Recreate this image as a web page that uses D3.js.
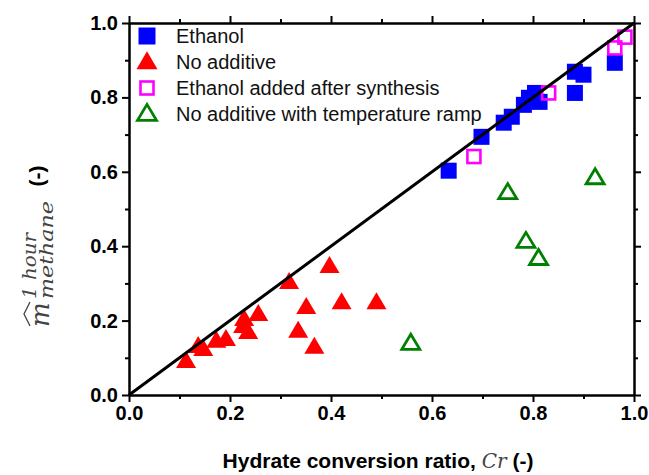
<!DOCTYPE html>
<html>
<head>
<meta charset="utf-8">
<script src="https://cdn.jsdelivr.net/npm/d3@7"></script>
<style>
  body { margin: 0; background: #fff; }
  svg { display: block; }
</style>
</head>
<body>
<div id="chart"></div>
<script>
// Ethanol (filled blue squares)
var ethanolX = [0.633, 0.698, 0.742, 0.758, 0.782, 0.792, 0.804, 0.813, 0.883, 0.900, 0.883, 0.962]
var ethanolY = [0.603, 0.694, 0.732, 0.748, 0.780, 0.799, 0.812, 0.788, 0.869, 0.861, 0.812, 0.893]
// No additive (filled red triangles)
var noAddX = [0.113, 0.137, 0.147, 0.173, 0.192, 0.226, 0.236, 0.228, 0.256, 0.317, 0.351, 0.335, 0.367, 0.397, 0.421, 0.490]
var noAddY = [0.091, 0.131, 0.123, 0.145, 0.150, 0.185, 0.169, 0.204, 0.217, 0.303, 0.236, 0.172, 0.129, 0.346, 0.249, 0.249]
// Ethanol added after synthesis (open magenta squares)
var afterX = [0.683, 0.831, 0.962, 0.982]
var afterY = [0.641, 0.812, 0.933, 0.962]
// No additive with temperature ramp (open green triangles)
var rampX = [0.750, 0.923, 0.786, 0.811, 0.558]
var rampY = [0.544, 0.584, 0.413, 0.367, 0.139]

var majorTicks = [0.0, 0.2, 0.4, 0.6, 0.8, 1.0]
var minorTicks = [0.1, 0.3, 0.5, 0.7, 0.9]
var legendLabels = ["Ethanol", "No additive", "Ethanol added after synthesis", "No additive with temperature ramp"]

var W = 649, H = 475
var sans = "'Liberation Sans', Arial, sans-serif"
var serif = "'DejaVu Serif', 'Liberation Serif', serif"

var svg = d3.select("#chart").append("svg")
  .attr("width", W).attr("height", H)

var x = d3.scaleLinear().domain([0, 1]).range([129, 634])
var y = d3.scaleLinear().domain([0, 1]).range([395, 23])

function zip(xs, ys) {
  return xs.map(function(v, i){ return {x: v, y: ys[i]} })
}

// marker shapes
var sq = 16, osq = 13, tri = 20, th = 17
function triPath(w, h) {
  return "M0," + (-h * 0.6) + "L" + (w / 2) + "," + (h * 0.4) + "L" + (-w / 2) + "," + (h * 0.4) + "Z"
}

var pts = svg.append("g")

pts.selectAll(".eth").data(zip(ethanolX, ethanolY)).enter().append("rect")
  .attr("x", function(d){ return x(d.x) - sq / 2 })
  .attr("y", function(d){ return y(d.y) - sq / 2 })
  .attr("width", sq).attr("height", sq)
  .style("fill", "#0000ff")

pts.selectAll(".noadd").data(zip(noAddX, noAddY)).enter().append("path")
  .attr("d", triPath(tri, th))
  .attr("transform", function(d){ return "translate(" + x(d.x) + "," + y(d.y) + ")" })
  .style("fill", "#ff0000")

pts.selectAll(".after").data(zip(afterX, afterY)).enter().append("rect")
  .attr("x", function(d){ return x(d.x) - osq / 2 })
  .attr("y", function(d){ return y(d.y) - osq / 2 })
  .attr("width", osq).attr("height", osq)
  .style("fill", "none").style("stroke", "#ff00ff").style("stroke-width", 2.6)

pts.selectAll(".ramp").data(zip(rampX, rampY)).enter().append("path")
  .attr("d", triPath(tri - 2, th - 2))
  .attr("transform", function(d){ return "translate(" + x(d.x) + "," + y(d.y) + ")" })
  .style("fill", "none").style("stroke", "#008000").style("stroke-width", 2.8)
  .style("stroke-linejoin", "miter")

// y = x line
svg.append("line")
  .attr("x1", x(0)).attr("y1", y(0))
  .attr("x2", x(1)).attr("y2", y(1))
  .style("stroke", "#000").style("stroke-width", 3)

// axes
function styleAxis(g) {
  g.selectAll(".domain").style("stroke", "#000").style("stroke-width", 2)
  g.selectAll(".tick line").style("stroke", "#000").style("stroke-width", 2)
  g.selectAll("text").style("font-family", sans).style("font-size", "20px")
    .style("font-weight", "bold").style("fill", "#000")
}

var fmt = d3.format(".1f")
var axes = [
  {ax: d3.axisBottom(x), tr: "translate(0," + y(0) + ")", lab: true},
  {ax: d3.axisTop(x), tr: "translate(0," + y(1) + ")", lab: false},
  {ax: d3.axisLeft(y), tr: "translate(" + x(0) + ",0)", lab: true},
  {ax: d3.axisRight(y), tr: "translate(" + x(1) + ",0)", lab: false}
]
axes.forEach(function(a){
  var g = svg.append("g").attr("transform", a.tr)
    .call(a.ax.tickValues(majorTicks).tickSize(7).tickSizeOuter(0).tickPadding(4)
      .tickFormat(a.lab ? fmt : ""))
  styleAxis(g)
  var m = svg.append("g").attr("transform", a.tr)
    .call(a.ax.tickValues(minorTicks).tickSize(4).tickSizeOuter(0).tickFormat(""))
  styleAxis(m)
})

// legend
var legend = svg.append("g")
var rows = [36, 62, 88, 114]
legendLabels.forEach(function(lab, i){
  var cy = rows[i], cx = 147
  if (i == 0) {
    legend.append("rect").attr("x", cx - 8.5).attr("y", cy - 8.5)
      .attr("width", 17).attr("height", 17).style("fill", "#0000ff")
  } else if (i == 1) {
    legend.append("path").attr("d", triPath(21, 18))
      .attr("transform", "translate(" + cx + "," + cy + ")").style("fill", "#ff0000")
  } else if (i == 2) {
    legend.append("rect").attr("x", cx - 6.5).attr("y", cy - 6.5)
      .attr("width", 13).attr("height", 13)
      .style("fill", "none").style("stroke", "#ff00ff").style("stroke-width", 2.6)
  } else {
    legend.append("path").attr("d", triPath(19, 16))
      .attr("transform", "translate(" + cx + "," + cy + ")")
      .style("fill", "none").style("stroke", "#008000").style("stroke-width", 2.8)
  }
  legend.append("text").attr("x", 176).attr("y", cy + 7)
    .style("font-family", sans).style("font-size", "20px").style("fill", "#111")
    .text(lab)
})

// x axis title
var xt = svg.append("text").attr("x", 378).attr("y", 468)
  .attr("text-anchor", "middle")
  .style("font-family", sans).style("font-size", "21px").style("font-weight", "bold")
xt.append("tspan").text("Hydrate conversion ratio, ")
xt.append("tspan").style("font-family", serif).style("font-style", "italic")
  .style("font-weight", "normal").style("font-size", "20px").style("fill", "#444").text("Cr")
xt.append("tspan").text(" (-)")

// y axis title (rotated)
var yt = svg.append("g").attr("transform", "translate(49,327) rotate(-90)")
var mathCol = "#444"
yt.append("text").attr("x", 0).attr("y", 0)
  .style("font-family", serif).style("font-style", "italic").style("font-size", "26px")
  .style("fill", mathCol).text("m")
yt.append("path").attr("d", "M1,-19 L13,-25 L25,-19")
  .style("fill", "none").style("stroke", mathCol).style("stroke-width", 1.3)
yt.append("text").attr("x", 28).attr("y", -13)
  .attr("textLength", 66).attr("lengthAdjust", "spacingAndGlyphs")
  .style("font-family", serif).style("font-style", "italic").style("font-size", "18px")
  .style("fill", mathCol).text("1 hour")
yt.append("text").attr("x", 28).attr("y", 4)
  .attr("textLength", 98).attr("lengthAdjust", "spacingAndGlyphs")
  .style("font-family", serif).style("font-style", "italic").style("font-size", "18px")
  .style("fill", mathCol).text("methane")
yt.append("text").attr("x", 151).attr("y", -5)
  .attr("text-anchor", "middle")
  .style("font-family", sans).style("font-size", "21px").style("font-weight", "bold")
  .style("fill", "#000").text("(-)")
</script>
</body>
</html>
